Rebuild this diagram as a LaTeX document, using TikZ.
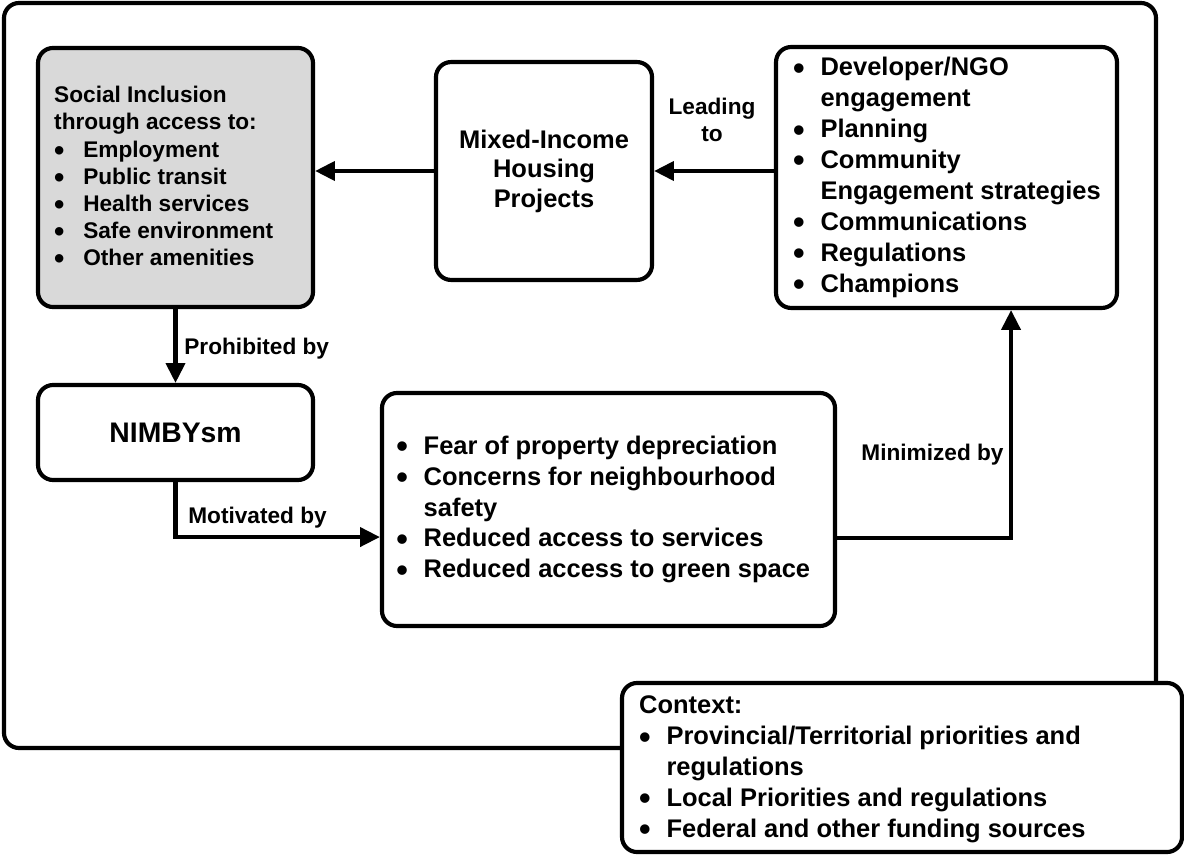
\documentclass[tikz,border=0pt]{standalone}
\usepackage{fontspec}
\setmainfont{Liberation Sans}
\usetikzlibrary{arrows.meta,positioning}

\definecolor{boxgray}{HTML}{D9D9D9}

% bullet line and its wrapped continuation
\newcommand{\bigbul}{\raisebox{-0.25ex}{\scalebox{1.3}{\textbullet}}}
\newcommand{\bul}[2][14.5pt]{\makebox[#1][l]{\bigbul}#2}
\newcommand{\cont}[2][14.5pt]{\hspace*{#1}#2}

\tikzset{
  box/.style={draw, line width=2.2pt, rounded corners=8pt, fill=white, inner sep=0pt},
  txt/.style={font=\bfseries\fontsize{13.5}{16.4}\selectfont, align=left, inner sep=0pt},
  small/.style={font=\bfseries\fontsize{12}{14.4}\selectfont},
  lbl/.style={small, inner sep=0pt},
  arr/.style={line width=2.2pt, -{Triangle[length=10.5pt,width=10pt]}},
}

\begin{document}
\begin{tikzpicture}[x=0.53pt, y=-0.53pt]
  \useasboundingbox (0,0) rectangle (1184,856);

  % frame round the main loop
  \draw[line width=2.2pt, rounded corners=8pt] (4,3) rectangle (1156,748);

  % boxes
  \node[box, fill=boxgray, minimum width=145.75pt, minimum height=137.3pt] (soc) at (175.5,177.5) {};
  \node[txt, small, right=9.5pt of soc.west] (soclist)
    {Social Inclusion\\through access to:\\
     \bul[15.4pt]{Employment}\\\bul[15.4pt]{Public transit}\\
     \bul[15.4pt]{Health services}\\\bul[15.4pt]{Safe environment}\\
     \bul[15.4pt]{Other amenities}};

  \node[box, txt, align=center, font=\bfseries\fontsize{13.5}{15.6}\selectfont,
        minimum width=114.5pt, minimum height=115.5pt] (mix) at (544,171)
    {Mixed-Income\\Housing\\Projects};

  \node[box, minimum width=180.7pt, minimum height=138.3pt] (plans) at (946.5,177.5) {};
  \node[txt, right=10pt of plans.west] (planlist)
    {\bul{Developer/NGO}\\\cont{engagement}\\\bul{Planning}\\
     \bul{Community}\\\cont{Engagement strategies}\\
     \bul{Communications}\\\bul{Regulations}\\\bul{Champions}};

  \node[box, font=\bfseries\fontsize{15}{18}\selectfont,
        minimum width=145.75pt, minimum height=50.35pt] (nimby) at (175.5,432.5) {NIMBYsm};

  \node[box, minimum width=240.1pt, minimum height=123.5pt] (fears) at (608.5,509.5) {};
  \node[txt, right=8.5pt of fears.west] (fearlist)
    {\bul{Fear of property depreciation}\\
     \bul{Concerns for neighbourhood}\\\cont{safety}\\
     \bul{Reduced access to services}\\
     \bul{Reduced access to green space}};

  \node[box, minimum width=296.8pt, minimum height=89.6pt] (ctx) at (902,767.5) {};
  \node[txt, right=10pt of ctx.west, yshift=-1pt] (ctxlist)
    {Context:\\
     \bul{Provincial/Territorial priorities and}\\\cont{regulations}\\
     \bul{Local Priorities and regulations}\\
     \bul{Federal and other funding sources}};

  % connectors
  \draw[arr] (mix.west) -- (mix.west -| soc.east);
  \draw[arr] (plans.west |- mix.east) -- (mix.east);
  \draw[arr] (soc.south) -- (nimby.north);
  \draw[arr] (nimby.south) |- ([yshift=-14.6pt]fears.west);
  \draw[arr] ([yshift=-14.9pt]fears.east) -| ([xshift=34.2pt]plans.south);

  % connector labels
  \node[lbl, align=center] (lead) at (712,120) {Leading\\to};
  \node[lbl, anchor=base west] (prohib) at (184,355) {Prohibited by};
  \node[lbl, anchor=base west] (motiv) at (188,523) {Motivated by};
  \node[lbl, anchor=base west] (minim) at (861,460) {Minimized by};
\end{tikzpicture}
\end{document}
